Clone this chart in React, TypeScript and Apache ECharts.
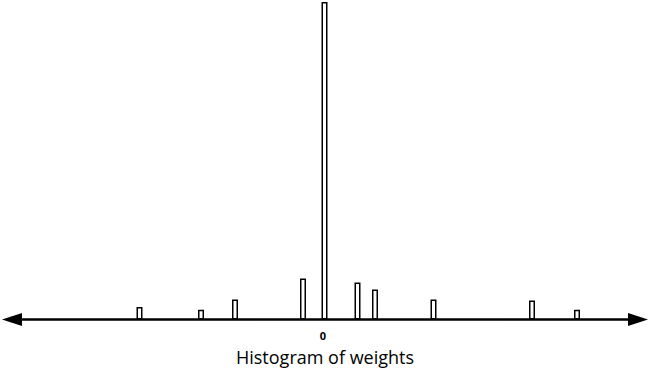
import React, { useEffect, useRef } from "react";
import * as echarts from "echarts";

// Bin centres (weight value) and counts
const binCenters = [-1.835, -1.22, -0.88, -0.2, 0.015, 0.345, 0.52, 1.105, 2.09, 2.54];
const binCounts = [3.9, 3.1, 6.3, 12.9, 99.7, 11.6, 9.4, 6.3, 6.0, 3.1];
const xLabels = [0];
const axisTitle = "Histogram of weights";

export default function App() {
  const ref = useRef<HTMLDivElement>(null);
  useEffect(() => {
    if (!ref.current) return;
    const chart = echarts.init(ref.current, undefined, { renderer: "svg" });
    chart.setOption({
      animation: false,
      backgroundColor: "#ffffff",
      grid: { left: 12, right: 12, top: 1, bottom: 55.5, containLabel: false, outerBoundsMode: "none" },
      xAxis: {
        type: "value",
        min: -3.11,
        max: 3.15,
        name: axisTitle,
        nameLocation: "middle",
        nameGap: 28,
        nameTextStyle: { fontFamily: "Open Sans", fontSize: 18, color: "#000" },
        axisLine: {
          show: true,
          onZero: false,
          symbol: ["triangle", "triangle"],
          symbolSize: [13, 20],
          lineStyle: { color: "#000", width: 2.5 },
        },
        axisTick: { show: false },
        splitLine: { show: false },
        axisLabel: {
          customValues: xLabels,
          formatter: (v: number) => String(v),
          fontFamily: "Open Sans",
          fontWeight: "bold",
          fontSize: 11,
          color: "#000",
          margin: 10,
        },
      },
      yAxis: {
        type: "value",
        min: 0,
        max: 100,
        show: false,
        splitLine: { show: false },
      },
      series: [
        {
          type: "bar",
          barWidth: 6,
          data: binCenters.map((c, i) => [c, binCounts[i]]),
          itemStyle: { color: "#ffffff", borderColor: "#000000", borderWidth: 1.5 },
        },
      ],
    });
    return () => chart.dispose();
  }, []);
  return (
    <div
      ref={ref}
      style={{ position: "fixed", left: 0, top: 0, width: 650, height: 375 }}
    />
  );
}
